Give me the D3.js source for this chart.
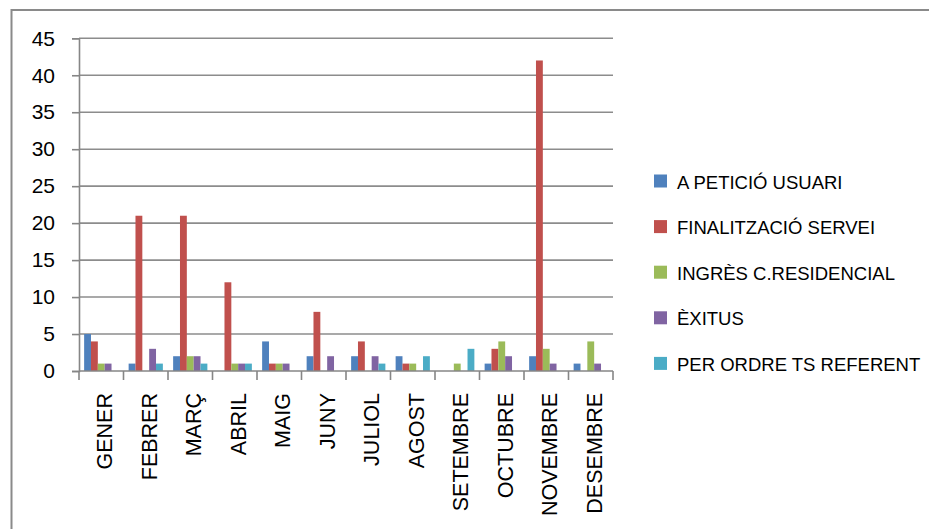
<!DOCTYPE html>
<html>
<head>
<meta charset="utf-8">
<script src="https://cdn.jsdelivr.net/npm/d3@7"></script>
<style>
  html, body { margin: 0; padding: 0; background: #fff; }
  svg text { font-family: "Liberation Sans", Arial, sans-serif; fill: #000; }
</style>
</head>
<body>
<svg id="chart" width="929" height="529"></svg>
<script>
// Monthly discharges by reason
const months = ["GENER", "FEBRER", "MARÇ", "ABRIL", "MAIG", "JUNY", "JULIOL", "AGOST", "SETEMBRE", "OCTUBRE", "NOVEMBRE", "DESEMBRE"];
const seriesNames = ["A PETICIÓ USUARI", "FINALITZACIÓ SERVEI", "INGRÈS C.RESIDENCIAL", "ÈXITUS", "PER ORDRE TS REFERENT"];
const peticioUsuari   = [5, 1, 2, 0, 4, 2, 2, 2, 0, 1, 2, 1];
const finalitzacio    = [4, 21, 21, 12, 1, 8, 4, 1, 0, 3, 42, 0];
const ingresResid     = [1, 0, 2, 1, 1, 0, 0, 1, 1, 4, 3, 4];
const exitus          = [1, 3, 2, 1, 1, 2, 2, 0, 0, 2, 1, 1];
const ordreTS         = [0, 1, 1, 1, 0, 0, 1, 2, 3, 0, 0, 0];
const yTicks = [0, 5, 10, 15, 20, 25, 30, 35, 40, 45];
const colors = ["#4F81BD", "#C0504D", "#9BBB59", "#8064A2", "#4BACC6"];

const seriesValues = [peticioUsuari, finalitzacio, ingresResid, exitus, ordreTS];

const svg = d3.select("#chart");

// outer chart frame
svg.append("path")
  .attr("d", "M11.5,529 L11.5,10 L929,10")
  .attr("fill", "none")
  .attr("stroke", "#8a8a8a")
  .attr("stroke-width", 2);

const plotLeft = 79, plotRight = 613, plotTop = 38.3, plotBottom = 371;

const x0 = d3.scaleBand().domain(months).range([plotLeft, plotRight]).paddingInner(0).paddingOuter(0);
const bw = x0.bandwidth();
const groupPad = bw * 1.5 / 6.5 / 2;
const x1 = d3.scaleBand().domain(d3.range(seriesNames.length)).range([groupPad, bw - groupPad]).padding(0);
const y = d3.scaleLinear().domain([0, 45]).range([plotBottom, plotTop]);

// horizontal gridlines
svg.append("g")
  .selectAll("line")
  .data(yTicks.filter(d => d > 0))
  .join("line")
  .attr("x1", plotLeft).attr("x2", plotRight)
  .attr("y1", d => y(d)).attr("y2", d => y(d))
  .attr("stroke", "#8c8c8c")
  .attr("stroke-width", 1.6);

// bars
const groups = svg.append("g")
  .selectAll("g")
  .data(months)
  .join("g")
  .attr("transform", d => `translate(${x0(d)},0)`);

groups.selectAll("rect")
  .data((m, i) => seriesValues.map((vals, s) => ({ s, v: vals[i] })).filter(d => d.v > 0))
  .join("rect")
  .attr("x", d => x1(d.s))
  .attr("width", x1.bandwidth())
  .attr("y", d => y(d.v))
  .attr("height", d => y(0) - y(d.v))
  .attr("fill", d => colors[d.s]);

// y axis
const yAxis = d3.axisLeft(y).tickValues(yTicks).tickSize(7).tickPadding(17);
const gy = svg.append("g").attr("transform", `translate(${plotLeft},0)`).call(yAxis);
gy.select(".domain").attr("stroke", "#868686").attr("stroke-width", 1.6);
gy.selectAll(".tick line").attr("stroke", "#868686").attr("stroke-width", 1.6);
gy.selectAll(".tick text").attr("font-size", 21).attr("font-family", "Liberation Sans, Arial, sans-serif").attr("fill", "#000");

// x axis baseline and category boundary ticks
svg.append("line")
  .attr("x1", plotLeft).attr("x2", plotRight)
  .attr("y1", plotBottom).attr("y2", plotBottom)
  .attr("stroke", "#868686").attr("stroke-width", 1.6);

const boundaries = months.map(m => x0(m)).concat([plotRight]);
svg.append("g")
  .selectAll("line")
  .data(boundaries)
  .join("line")
  .attr("x1", d => d).attr("x2", d => d)
  .attr("y1", plotBottom).attr("y2", plotBottom + 9)
  .attr("stroke", "#868686").attr("stroke-width", 1.6);

// rotated month labels
svg.append("g")
  .selectAll("text")
  .data(months)
  .join("text")
  .attr("transform", d => `translate(${x0(d) + bw / 2 + 11},393) rotate(-90)`)
  .attr("text-anchor", "end")
  .attr("font-size", 21.5)
  .text(d => d);

// legend
const legend = svg.append("g")
  .selectAll("g")
  .data(seriesNames)
  .join("g")
  .attr("transform", (d, i) => `translate(654,${181.5 + i * 45.6})`);

legend.append("rect")
  .attr("x", 0).attr("y", -7)
  .attr("width", 13).attr("height", 13)
  .attr("fill", (d, i) => colors[i]);

legend.append("text")
  .attr("x", 23)
  .attr("y", 7)
  .attr("font-size", 18.5)
  .text(d => d);
</script>
</body>
</html>
